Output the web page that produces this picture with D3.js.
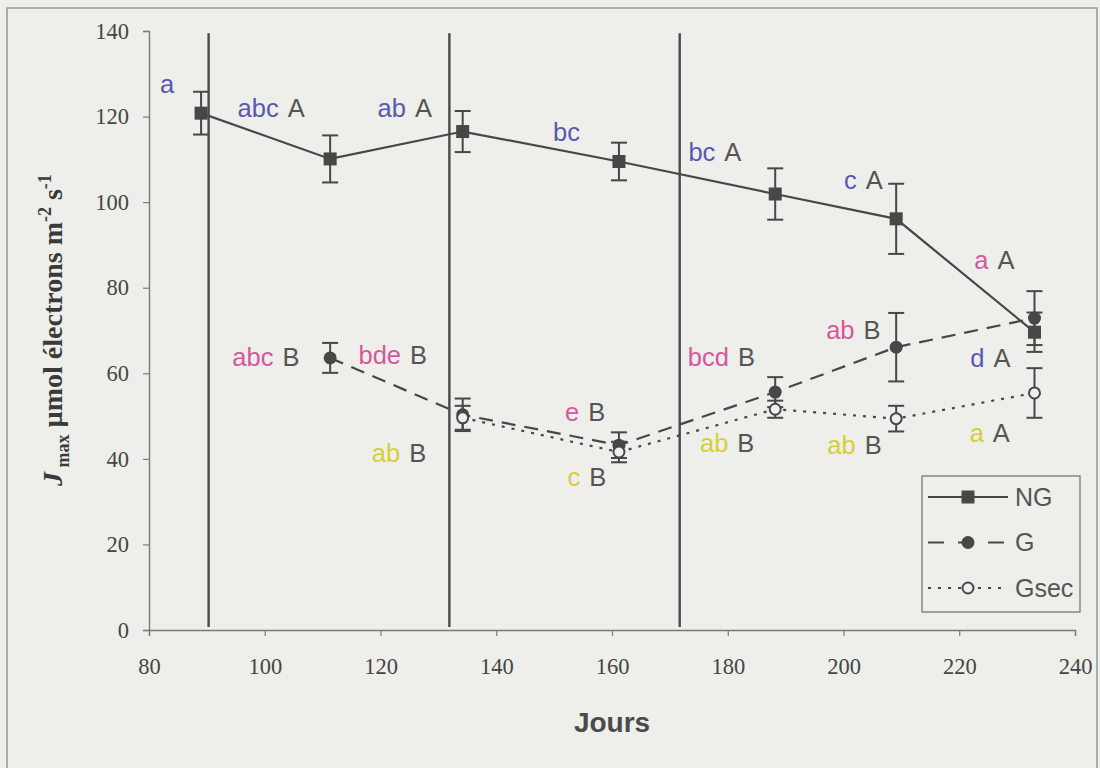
<!DOCTYPE html>
<html>
<head>
<meta charset="utf-8">
<script src="https://cdn.jsdelivr.net/npm/d3@7"></script>
<style>
  html, body { margin: 0; padding: 0; background: #eeeeea; }
  svg { display: block; }
</style>
</head>
<body>
<svg id="chart" width="1100" height="768"></svg>
<script>
// Jmax over the season for three treatments (mean ± error)
const daysNG   = [89, 111.3, 134.2, 161.2, 188.2, 209.1, 233];
const valuesNG = [120.8, 110.1, 116.5, 109.5, 101.9, 96.1, 69.6];
const errNG    = [5.0, 5.5, 4.8, 4.4, 6.0, 8.2, 4.6];

const daysG    = [111.3, 134.2, 161.2, 188.2, 209.1, 233];
const valuesG  = [63.6, 50.3, 43.2, 55.6, 66.1, 72.9];
const errG     = [3.5, 3.8, 3.0, 3.5, 8.0, 6.3];

const daysGsec   = [134.2, 161.2, 188.2, 209.1, 233];
const valuesGsec = [49.6, 41.6, 51.6, 49.4, 55.4];
const errGsec    = [2.8, 2.4, 2.0, 3.0, 5.8];

// Period separators (days)
const separators = [90.3, 131.9, 171.7];

const xTicks = [80, 100, 120, 140, 160, 180, 200, 220, 240];
const yTicks = [0, 20, 40, 60, 80, 100, 120, 140];

// Significance letters: day/value anchor of the lower-case group, then the upper-case letter
const letterDays   = [81.9, 95.3, 119.5, 149.8, 173.2, 200.1, 222.6,
                      94.4, 116.2, 151.9, 173.1, 197.0, 221.9,
                      118.5, 152.3, 175.2, 197.2, 221.8];
const letterValues = [127.5, 122.0, 122.0, 116.4, 111.6, 105.1, 86.5,
                      63.8, 64.2, 50.9, 63.8, 70.1, 63.6,
                      41.4, 35.8, 43.6, 43.2, 46.0];
const lowerTexts   = ["a", "abc", "ab", "bc", "bc", "c", "a",
                      "abc", "bde", "e", "bcd", "ab", "d",
                      "ab", "c", "ab", "ab", "a"];
const upperTexts   = ["", "A", "A", "", "A", "A", "A",
                      "B", "B", "B", "B", "B", "A",
                      "B", "B", "B", "B", "A"];
const lowerGroups  = ["NG", "NG", "NG", "NG", "NG", "NG", "G",
                      "G", "G", "G", "G", "G", "NG",
                      "Gsec", "Gsec", "Gsec", "Gsec", "Gsec"];

const groupColor = { NG: "#5858b2", G: "#d6579e", Gsec: "#d6cf38" };
const ink = "#474747";
const bg = "#eeeeea";

const svg = d3.select("#chart");

const x = d3.scaleLinear().domain([80, 240]).range([149, 1075]);
const y = d3.scaleLinear().domain([0, 140]).range([630, 31]);

// Outer frame
svg.append("path")
  .attr("d", "M7,768 V8 H1097 V768")
  .attr("fill", "none").attr("stroke", "#9a9a9a").attr("stroke-width", 1.6);

// Axes
const serif = "'Liberation Serif', 'Times New Roman', serif";
const sans = "'Liberation Sans', Arial, sans-serif";

const yAxis = svg.append("g")
  .attr("transform", `translate(${x(80)},0)`)
  .call(d3.axisLeft(y).tickValues(yTicks).tickSize(6).tickPadding(14).tickFormat(d3.format("d")));
const xAxis = svg.append("g")
  .attr("transform", `translate(0,${y(0)})`)
  .call(d3.axisBottom(x).tickValues(xTicks).tickSize(6).tickPadding(22).tickFormat(d3.format("d")));

[xAxis, yAxis].forEach(g => {
  g.select(".domain").attr("stroke", "#7a7a7a").attr("stroke-width", 1.4);
  g.selectAll(".tick line").attr("stroke", "#7a7a7a").attr("stroke-width", 1.2);
  g.selectAll(".tick text")
    .attr("fill", "#454545")
    .style("font-family", serif)
    .style("font-size", "22.5px");
});

// Period separators
svg.append("g").selectAll("line").data(separators).join("line")
  .attr("x1", d => x(d)).attr("x2", d => x(d))
  .attr("y1", y(139.5)).attr("y2", y(0.7))
  .attr("stroke", "#4a4a4a").attr("stroke-width", 2.4);

// Series definitions
const series = [
  { name: "NG",   days: daysNG,   values: valuesNG,   errs: errNG,   dash: null,   marker: "square" },
  { name: "G",    days: daysG,    values: valuesG,    errs: errG,    dash: "14,9", marker: "dot" },
  { name: "Gsec", days: daysGsec, values: valuesGsec, errs: errGsec, dash: "3,7",  marker: "open" }
];

const line = d3.line().x(d => x(d.day)).y(d => y(d.value));

series.forEach(s => {
  const pts = s.days.map((d, i) => ({ day: d, value: s.values[i], err: s.errs[i] }));
  const g = svg.append("g");

  // Error bars
  const eb = g.append("g").selectAll("g").data(pts).join("g")
    .attr("stroke", ink).attr("stroke-width", 2).attr("fill", "none");
  eb.append("line")
    .attr("x1", d => x(d.day)).attr("x2", d => x(d.day))
    .attr("y1", d => y(d.value - d.err)).attr("y2", d => y(d.value + d.err));
  eb.append("line")
    .attr("x1", d => x(d.day) - 8).attr("x2", d => x(d.day) + 8)
    .attr("y1", d => y(d.value + d.err)).attr("y2", d => y(d.value + d.err));
  eb.append("line")
    .attr("x1", d => x(d.day) - 8).attr("x2", d => x(d.day) + 8)
    .attr("y1", d => y(d.value - d.err)).attr("y2", d => y(d.value - d.err));

  // Connecting line
  g.append("path").datum(pts)
    .attr("d", line)
    .attr("fill", "none").attr("stroke", ink).attr("stroke-width", 2.2)
    .attr("stroke-dasharray", s.dash);

  // Markers
  drawMarkers(g, pts, s.marker);
});

function drawMarkers(g, pts, kind) {
  if (kind === "square") {
    g.selectAll("rect.m").data(pts).join("rect").attr("class", "m")
      .attr("x", d => x(d.day) - 6.5).attr("y", d => y(d.value) - 6.5)
      .attr("width", 13).attr("height", 13).attr("fill", ink);
  } else if (kind === "dot") {
    g.selectAll("circle.m").data(pts).join("circle").attr("class", "m")
      .attr("cx", d => x(d.day)).attr("cy", d => y(d.value)).attr("r", 6.5)
      .attr("fill", ink);
  } else {
    g.selectAll("circle.m").data(pts).join("circle").attr("class", "m")
      .attr("cx", d => x(d.day)).attr("cy", d => y(d.value)).attr("r", 5.5)
      .attr("fill", bg).attr("stroke", ink).attr("stroke-width", 2);
  }
}

// Significance letters
const letters = svg.append("g").style("font-family", sans).style("font-size", "25.5px");
lowerTexts.forEach((t, i) => {
  const px = x(letterDays[i]);
  const py = y(letterValues[i]);
  const lo = letters.append("text")
    .attr("x", px).attr("y", py).attr("dy", "0.35em")
    .attr("fill", groupColor[lowerGroups[i]])
    .text(t);
  if (upperTexts[i]) {
    const w = lo.node().getComputedTextLength();
    letters.append("text")
      .attr("x", px + w + 9).attr("y", py).attr("dy", "0.35em")
      .attr("fill", "#555555")
      .text(upperTexts[i]);
  }
});

// Axis titles
svg.append("text")
  .attr("x", x(160)).attr("y", 722).attr("dy", "0.35em")
  .attr("text-anchor", "middle")
  .attr("fill", "#4a4a4a")
  .style("font-family", sans).style("font-size", "28px").style("font-weight", "bold")
  .text("Jours");

const yt = svg.append("text")
  .attr("transform", "translate(62,330) rotate(-90)")
  .attr("text-anchor", "middle")
  .attr("fill", "#3a3a3a")
  .style("font-family", serif).style("font-size", "28px").style("font-weight", "bold");
yt.append("tspan").style("font-style", "italic").text("J");
yt.append("tspan").attr("dy", 7).style("font-size", "18px").text(" max");
yt.append("tspan").attr("dy", -7).text(" µmol électrons m");
yt.append("tspan").attr("dy", -11).style("font-size", "18px").text("-2");
yt.append("tspan").attr("dy", 11).text(" s");
yt.append("tspan").attr("dy", -11).style("font-size", "18px").text("-1");

// Legend
const legend = svg.append("g");
legend.append("rect")
  .attr("x", 922).attr("y", 476).attr("width", 158).attr("height", 136)
  .attr("fill", bg).attr("stroke", "#777").attr("stroke-width", 1.3);
series.forEach((s, i) => {
  const ly = 497 + i * 45.5;
  const row = legend.append("g");
  row.append("line")
    .attr("x1", 928).attr("x2", 1008).attr("y1", ly).attr("y2", ly)
    .attr("stroke", ink).attr("stroke-width", 2.2)
    .attr("stroke-dasharray", s.name === "G" ? "16,14" : s.dash);
  const mk = row.append("g").attr("transform", `translate(${968},${ly})`);
  if (s.marker === "square") {
    mk.append("rect").attr("x", -6.5).attr("y", -6.5).attr("width", 13).attr("height", 13).attr("fill", ink);
  } else if (s.marker === "dot") {
    mk.append("circle").attr("r", 6.5).attr("fill", ink);
  } else {
    mk.append("circle").attr("r", 5.5).attr("fill", bg).attr("stroke", ink).attr("stroke-width", 2);
  }
  row.append("text")
    .attr("x", 1015).attr("y", ly).attr("dy", "0.35em")
    .attr("fill", "#555")
    .style("font-family", sans).style("font-size", "25px")
    .text(s.name);
});
</script>
</body>
</html>
